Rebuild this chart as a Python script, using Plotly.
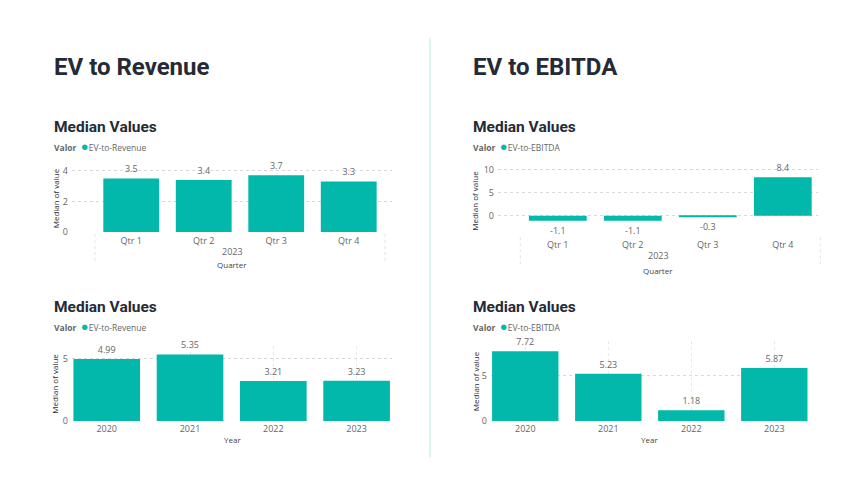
import plotly.graph_objects as go

# The page body has an 8px margin on every side; size the figure so the page fits the window.
OFF = 8
W, H = 863 - 2 * OFF, 482 - 2 * OFF

# ---------------- data ----------------
quarters = ["Qtr 1", "Qtr 2", "Qtr 3", "Qtr 4"]
quarter_year = "2023"
years = ["2020", "2021", "2022", "2023"]

ev_revenue_quarterly = [3.5, 3.4, 3.7, 3.3]
ev_ebitda_quarterly = [-1.1, -1.1, -0.3, 8.4]
ev_revenue_yearly = [4.99, 5.35, 3.21, 3.23]
ev_ebitda_yearly = [7.72, 5.23, 1.18, 5.87]

section_titles = ["EV to Revenue", "EV to EBITDA"]
chart_title = "Median Values"
legend_title = "Valor"
series_names = ["EV-to-Revenue", "EV-to-EBITDA"]
y_title = "Median of value"

# ---------------- style ----------------
TEAL = "#01B8AA"
DARK = "#252B36"
GREY = "#666666"
GRID = "#DADADA"
FONT = "Segoe UI, Open Sans, sans-serif"
TITLE_FONT = "Roboto, Inter, sans-serif"


def px(x):
    return (x - OFF) / W


def py(y):
    return 1 - (y - OFF) / H


# panel geometry in window pixels
panels = [
    dict(cats=quarters, vals=ev_revenue_quarterly, dec=1, l=72, r=392, t=164.7, b=233.3,
         yr=[0, 4.4], xr=[-0.817, 3.597], dt=2, bw=0.77, name=series_names[0], hier=True,
         ox=52, title_y=126, leg_y=145.5, ytx=55, yr_lab=253.3, xt_y=266.7, xt="Quarter",
         xstand=2),
    dict(cats=quarters, vals=ev_ebitda_quarterly, dec=1, l=498, r=818, t=166.3, b=236.8,
         yr=[-4.3, 10.8], xr=[-0.797, 3.469], dt=5, bw=0.77, name=series_names[1], hier=True,
         ox=471, title_y=126, leg_y=145.5, ytx=475, yr_lab=257.3, xt_y=272.7, xt="Quarter",
         xstand=3),
    dict(cats=years, vals=ev_revenue_yearly, dec=2, l=72, r=392, t=350, b=426,
         yr=[0, 6], xr=[-0.417, 3.425], dt=5, bw=0.8, name=series_names[0], hier=False,
         ox=52, title_y=310, leg_y=329, ytx=55, yr_lab=None, xt_y=445, xt="Year",
         xstand=1),
    dict(cats=years, vals=ev_ebitda_yearly, dec=2, l=491, r=808, t=345, b=426,
         yr=[0, 8.8], xr=[-0.413, 3.406], dt=5, bw=0.8, name=series_names[1], hier=False,
         ox=471, title_y=310, leg_y=329, ytx=475, yr_lab=None, xt_y=445, xt="Year",
         xstand=1),
]

fig = go.Figure()
annotations = []
shapes = []

for i, p in enumerate(panels, start=1):
    xa = "x" if i == 1 else f"x{i}"
    ya = "y" if i == 1 else f"y{i}"
    fig.add_trace(go.Bar(
        x=p["cats"], y=p["vals"], xaxis=xa, yaxis=ya,
        marker=dict(color=TEAL, line=dict(width=0)),
        width=p["bw"],
        text=[f"{v:.{p['dec']}f}" for v in p["vals"]],
        textposition="outside", cliponaxis=False,
        textfont=dict(family=FONT, size=9, color=GREY),
        showlegend=False, hoverinfo="skip",
    ))
    xkey = "xaxis" if i == 1 else f"xaxis{i}"
    ykey = "yaxis" if i == 1 else f"yaxis{i}"
    fig.layout[xkey] = dict(
        domain=[px(p["l"]), px(p["r"])], anchor=ya, type="category",
        range=p["xr"], showline=False, ticks="", zeroline=False,
        ticklabelstandoff=p["xstand"],
        showgrid=not p["hier"], gridcolor="#E8E8E8", griddash="dot", gridwidth=1,
        tickfont=dict(family=FONT, size=9, color=GREY), fixedrange=True,
    )
    fig.layout[ykey] = dict(
        domain=[py(p["b"]), py(p["t"])], anchor=xa, range=p["yr"], dtick=p["dt"],
        tick0=0, showline=False, ticks="", zeroline=False, ticklabelstandoff=3,
        showgrid=True, gridcolor=GRID, griddash="dot", gridwidth=1,
        tickfont=dict(family=FONT, size=9, color=GREY), fixedrange=True,
    )

    # chart title and legend
    annotations.append(dict(text=f"<b>{chart_title}</b>", xref="paper", yref="paper",
                            x=px(p["ox"]), y=py(p["title_y"]), xanchor="left", yanchor="middle",
                            showarrow=False, font=dict(family=TITLE_FONT, size=15.5, color=DARK)))
    annotations.append(dict(
        text=(f"<b>{legend_title}</b>  <span style='color:{TEAL};font-size:13px'>●</span>"
              f"{p['name']}"),
        xref="paper", yref="paper", x=px(p["ox"]), y=py(p["leg_y"]),
        xanchor="left", yanchor="middle", showarrow=False,
        font=dict(family=FONT, size=8.5, color=GREY)))
    # y axis title
    annotations.append(dict(text=y_title, xref="paper", yref="paper", textangle=-90,
                            x=px(p["ytx"]), y=py((p["t"] + p["b"]) / 2),
                            xanchor="center", yanchor="middle", showarrow=False,
                            font=dict(family=FONT, size=8, color=DARK)))
    # x axis title
    annotations.append(dict(text=p["xt"], xref=f"{xa} domain", yref="paper",
                            x=0.5, y=py(p["xt_y"]), xanchor="center", yanchor="middle",
                            showarrow=False, font=dict(family=FONT, size=8, color="#444444")))
    if p["hier"]:
        annotations.append(dict(text=quarter_year, xref=f"{xa} domain", yref="paper",
                                x=0.5, y=py(p["yr_lab"]), xanchor="center", yanchor="middle",
                                showarrow=False, font=dict(family=FONT, size=9, color=GREY)))
        span = p["xr"][1] - p["xr"][0]
        for edge in (-0.5, len(p["cats"]) - 0.5):
            fx = (edge - p["xr"][0]) / span
            if 0 <= fx <= 1.01:
                shapes.append(dict(type="line", xref=f"{xa} domain", yref="paper",
                                   x0=fx, x1=fx, y0=py(p["b"] + 2), y1=py(p["xt_y"] - 4),
                                   line=dict(color="#E3E3E3", width=1, dash="dot")))

# section titles
for tx, ox in zip(section_titles, (52, 471)):
    annotations.append(dict(text=f"<b>{tx}</b>", xref="paper", yref="paper",
                            x=px(ox), y=py(65), xanchor="left", yanchor="middle",
                            showarrow=False, font=dict(family=TITLE_FONT, size=24, color=DARK)))

# divider
shapes.append(dict(type="line", xref="paper", yref="paper", x0=px(430), x1=px(430),
                   y0=py(463), y1=py(35), line=dict(color="#CFF0EB", width=1.5)))

fig.update_layout(
    width=W, height=H, margin=dict(l=0, r=0, t=0, b=0),
    paper_bgcolor="white", plot_bgcolor="white",
    annotations=annotations, shapes=shapes, showlegend=False,
    font=dict(family=FONT),
)

fig.write_html("out.html")
